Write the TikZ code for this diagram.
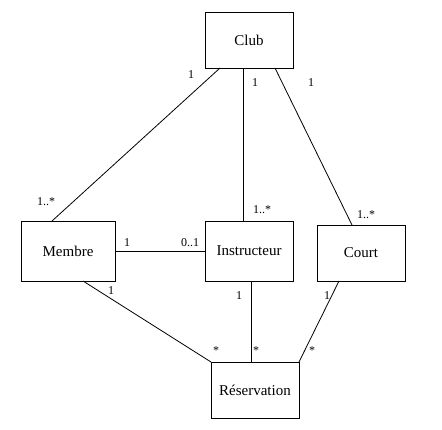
\documentclass[tikz,border=0pt]{standalone}
\usepackage{fontspec}
\setmainfont{Liberation Serif}
\begin{document}
\begin{tikzpicture}[x=1pt,y=-1pt,
  cls/.style={draw,line width=0.8pt,rectangle,inner sep=0pt,outer sep=0pt,font=\fontsize{15}{18}\selectfont},
  lbl/.style={inner sep=0pt,font=\fontsize{12}{14}\selectfont},
  assoc/.style={line width=0.8pt}]
\useasboundingbox[fill=white] (0,0) rectangle (442,429);
\node[cls,minimum width=88pt,minimum height=56pt] (club) at (249,40) {Club};
\node[cls,minimum width=94pt,minimum height=60pt] (membre) at (68,251) {Membre};
\node[cls,minimum width=88pt,minimum height=60pt] (instr) at (249,251) {Instructeur};
\node[cls,minimum width=88pt,minimum height=56pt] (court) at (361,253) {Court};
\node[cls,minimum width=88pt,minimum height=56pt] (res) at (255,390) {Réservation};
\draw[assoc] ([xshift=15pt]club.south west) -- ([xshift=31pt]membre.north west);
\draw[assoc] ([xshift=38pt]club.south west) -- ([xshift=38pt]instr.north west);
\draw[assoc] ([xshift=70pt]club.south west) -- ([xshift=35pt]court.north west);
\draw[assoc] (membre.east) -- (instr.west);
\draw[assoc] ([xshift=62pt]membre.south west) -- (res.north west);
\draw[assoc] ([xshift=46pt]instr.south west) -- ([xshift=40pt]res.north west);
\draw[assoc] ([xshift=22pt]court.south west) -- (res.north east);
\node[lbl] (a1) at (191,75) {1};
\node[lbl] (a2) at (46,202) {1..*};
\node[lbl] (b1) at (255,83) {1};
\node[lbl] (b2) at (262,210) {1..*};
\node[lbl] (c1) at (311,83) {1};
\node[lbl] (c2) at (366,215) {1..*};
\node[lbl] (d1) at (127,243) {1};
\node[lbl] (d2) at (190,243) {0..1};
\node[lbl] (e1) at (111,291) {1};
\node[lbl] (e2) at (216,351) {*};
\node[lbl] (f1) at (239,296) {1};
\node[lbl] (f2) at (256,351) {*};
\node[lbl] (g1) at (327,296) {1};
\node[lbl] (g2) at (312,351) {*};
\end{tikzpicture}
\end{document}
